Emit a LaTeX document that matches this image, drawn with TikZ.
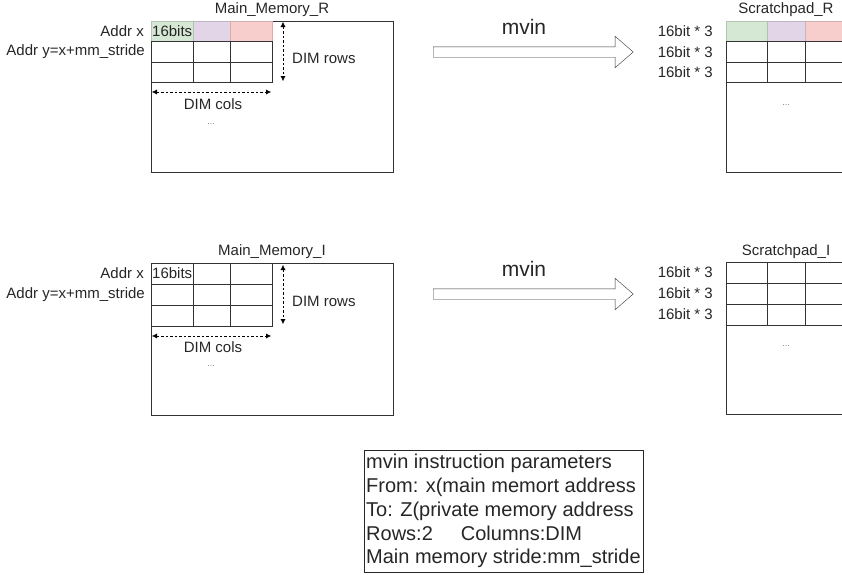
\documentclass[tikz,border=0pt]{standalone}
\usepackage{fontspec}
\setmainfont{Liberation Sans}
\usetikzlibrary{arrows.meta,shapes.arrows,positioning}

\definecolor{cellgreen}{HTML}{D5E8D4}
\definecolor{cellpurple}{HTML}{E1D5E7}
\definecolor{cellred}{HTML}{F8CECC}

\begin{document}
\begin{tikzpicture}[x=1pt,y=-1pt,
    lbl/.style={font=\fontsize{15}{18}\selectfont,text=black!85,inner sep=0pt},
    bigbox/.style={draw=black!80,anchor=north west,minimum width=242,minimum height=151,inner sep=0pt,outer sep=0pt},
    cell/.style={draw=black!80,anchor=north west,minimum height=20.5,inner sep=0pt,outer sep=0pt},
    dimarrow/.style={{Latex[length=5pt,width=5pt]}-{Latex[length=5pt,width=5pt]},dash pattern=on 2.5pt off 2pt},
    movearrow/.style={single arrow,draw=black!80,anchor=west,minimum height=200,minimum width=31,
      inner sep=5pt,single arrow head extend=10.5pt,single arrow tip angle=82},
    dots/.style={font=\fontsize{9}{10}\selectfont,text=black!50}]
  \useasboundingbox (0,0) rectangle (842,574);

  % main memory R
  \node[bigbox] (memR) at (151,21) {};
  \node[lbl] (memRtitle) at (272,10) {Main\_Memory\_R};
  \foreach \x/\w/\c/\col in {151/42/1/cellgreen,193/37/2/cellpurple,230/42/3/cellred}
    \node[cell,minimum width=\w,fill=\col,draw=\col!85!black] (memR-0-\c) at (\x,21) {};
  \foreach \r in {1,2}
    \foreach \x/\w/\c in {151/42/1,193/37/2,230/42/3}
      \node[cell,minimum width=\w] (memR-\r-\c) at (\x,21+20.5*\r) {};
  \node[lbl,anchor=west] (bitsR) at ([xshift=1pt]memR-0-1.west) {16bits};
  \node[lbl,left=7pt of memR-0-1] (addrxR) {Addr x};
  \node[lbl,left=6pt of memR-1-1] (addryR) {Addr y=x+mm\_stride};
  \coordinate (rowsRtop) at (283,22);
  \coordinate (rowsRbot) at (283,81);
  \coordinate (colsRl) at (152,92);
  \coordinate (colsRr) at (271,92);
  \draw[dimarrow] (rowsRtop) -- (rowsRbot);
  \draw[dimarrow] (colsRl) -- (colsRr);
  \node[lbl,anchor=west] (rowsR) at (292,58) {DIM rows};
  \node[lbl] (colsR) at (213,104) {DIM cols};
  \node[dots] (dotsmemR) at (211,124) {...};

  % scratchpad R
  \node[bigbox,minimum width=121] (spR) at (726,21) {};
  \node[lbl] (spRtitle) at (786,10) {Scratchpad\_R};
  \foreach \x/\w/\c/\col in {726/41/1/cellgreen,767/38/2/cellpurple,805/41/3/cellred}
    \node[cell,minimum width=\w,fill=\col,draw=\col!85!black] (spR-0-\c) at (\x,21) {};
  \foreach \r in {1,2}
    \foreach \x/\w/\c in {726/41/1,767/38/2,805/41/3}
      \node[cell,minimum width=\w] (spR-\r-\c) at (\x,21+20.5*\r) {};
  \foreach \r in {0,1,2}
    \node[lbl,left=13pt of spR-\r-1] (spRlbl-\r) {16bit * 3};
  \node[dots] (dotsspR) at (786,105) {...};

  % move R
  \node[movearrow] (mvinR) at (433,52) {};
  \node[lbl,font=\fontsize{21}{24}\selectfont] (mvinRlbl) at (524,27) {mvin};

  % main memory I
  \node[bigbox,minimum height=152] (memI) at (151,263) {};
  \node[lbl] (memItitle) at (272,252) {Main\_Memory\_I};
  \foreach \r in {0,1,2}
    \foreach \x/\w/\c in {151/42/1,193/37/2,230/42/3}
      \node[cell,minimum width=\w,minimum height=21] (memI-\r-\c) at (\x,263+21*\r) {};
  \node[lbl,anchor=west] (bitsI) at ([xshift=1pt]memI-0-1.west) {16bits};
  \node[lbl,left=7pt of memI-0-1] (addrxI) {Addr x};
  \node[lbl,left=6pt of memI-1-1] (addryI) {Addr y=x+mm\_stride};
  \coordinate (rowsItop) at (283,265);
  \coordinate (rowsIbot) at (283,324);
  \coordinate (colsIl) at (152,336);
  \coordinate (colsIr) at (271,336);
  \draw[dimarrow] (rowsItop) -- (rowsIbot);
  \draw[dimarrow] (colsIl) -- (colsIr);
  \node[lbl,anchor=west] (rowsI) at (292,301) {DIM rows};
  \node[lbl] (colsI) at (213,347) {DIM cols};
  \node[dots] (dotsmemI) at (211,366) {...};

  % scratchpad I
  \node[bigbox,minimum width=121,minimum height=152] (spI) at (726,262) {};
  \node[lbl] (spItitle) at (786,252) {Scratchpad\_I};
  \foreach \r in {0,1,2}
    \foreach \x/\w/\c in {726/41/1,767/38/2,805/41/3}
      \node[cell,minimum width=\w,minimum height=21] (spI-\r-\c) at (\x,262+21*\r) {};
  \foreach \r in {0,1,2}
    \node[lbl,left=13pt of spI-\r-1] (spIlbl-\r) {16bit * 3};
  \node[dots] (dotsspI) at (786,346) {...};

  % move I
  \node[movearrow] (mvinI) at (433,294) {};
  \node[lbl,font=\fontsize{21}{24}\selectfont] (mvinIlbl) at (524,269) {mvin};

  % parameters
  \node[draw=black!85,anchor=north west,minimum width=278,minimum height=122,inner sep=2pt,
    align=left,font=\fontsize{20}{23.7}\selectfont,text=black!85] (params) at (364,450)
    {mvin instruction parameters\\From: x(main memort address\\To: Z(private memory address\\
     Rows:2\hspace{28pt}Columns:DIM\\Main memory stride:mm\_stride};
\end{tikzpicture}
\end{document}
